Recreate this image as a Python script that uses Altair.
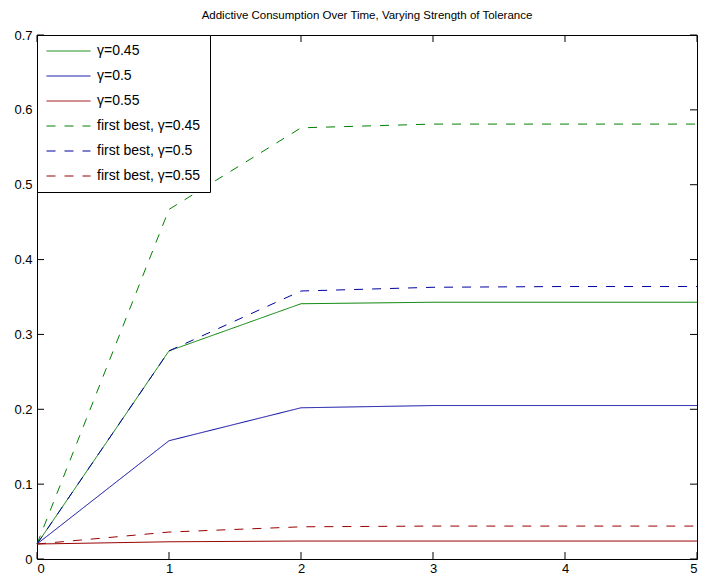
import altair as alt
import pandas as pd

# ---- data ----
t = [0, 1, 2, 3, 4, 5]
labels = ["γ=0.45", "γ=0.5", "γ=0.55",
          "first best, γ=0.45", "first best, γ=0.5", "first best, γ=0.55"]
g045 = [0.020, 0.278, 0.341, 0.343, 0.343, 0.343]
g050 = [0.020, 0.158, 0.202, 0.205, 0.205, 0.205]
g055 = [0.020, 0.023, 0.024, 0.024, 0.024, 0.024]
fb045 = [0.020, 0.467, 0.576, 0.581, 0.581, 0.581]
fb050 = [0.020, 0.278, 0.358, 0.363, 0.364, 0.364]
fb055 = [0.020, 0.036, 0.043, 0.044, 0.044, 0.044]
xticks = [0, 1, 2, 3, 4, 5]
yticks = [0, 0.1, 0.2, 0.3, 0.4, 0.5, 0.6, 0.7]

colors = ["#008000", "#0000a0", "#990000", "#008000", "#0000a0", "#990000"]
dashes = [[1, 0], [1, 0], [1, 0], [9, 9], [9, 9], [9, 9]]

series = [g045, g050, g055, fb045, fb050, fb055]
rows = []
for lab, vals in zip(labels, series):
    for ti, v in zip(t, vals):
        rows.append({"series": lab, "t": ti, "v": v})
df = pd.DataFrame(rows)

W, H = 660, 524
XMAX, YMAX = 5.0, 0.7
TL = 7  # inward tick length in px
tx = XMAX * TL / W
ty = YMAX * TL / H

xscale = alt.Scale(domain=[0, XMAX], nice=False, zero=False)
yscale = alt.Scale(domain=[0, YMAX], nice=False, zero=False)

lines = alt.Chart(df).mark_line(strokeWidth=1).encode(
    x=alt.X("t:Q", scale=xscale,
            axis=alt.Axis(title=None, values=xticks, format="d", labelPadding=3)),
    y=alt.Y("v:Q", scale=yscale,
            axis=alt.Axis(title=None, values=yticks, labelPadding=5,
                          labelExpr="datum.value == 0 ? '0' : format(datum.value, '.1f')")),
    color=alt.Color("series:N", scale=alt.Scale(domain=labels, range=colors),
                    legend=alt.Legend(title=None, orient="none", legendX=0, legendY=0,
                                      symbolType="stroke", symbolSize=1936,
                                      symbolStrokeWidth=1, clipHeight=14,
                                      rowPadding=11, padding=9, labelOffset=6,
                                      labelFont="Liberation Sans", labelFontSize=14,
                                      labelColor="black", strokeColor="black",
                                      fillColor="white", cornerRadius=0,
                                      labelLimit=300)),
    strokeDash=alt.StrokeDash("series:N", scale=alt.Scale(domain=labels, range=dashes)),
    order=alt.Order("series:N"),
)

tdf = pd.DataFrame({"t": xticks})
vdf = pd.DataFrame({"v": yticks})

bottom_ticks = alt.Chart(tdf).mark_rule(color="black", strokeWidth=1).encode(
    x=alt.X("t:Q", scale=xscale, title=None), y=alt.datum(0), y2=alt.datum(ty))
top_ticks = alt.Chart(tdf).mark_rule(color="black", strokeWidth=1).encode(
    x=alt.X("t:Q", scale=xscale, title=None), y=alt.datum(YMAX), y2=alt.datum(YMAX - ty))
left_ticks = alt.Chart(vdf).mark_rule(color="black", strokeWidth=1).encode(
    y=alt.Y("v:Q", scale=yscale, title=None), x=alt.datum(0), x2=alt.datum(tx))
right_ticks = alt.Chart(vdf).mark_rule(color="black", strokeWidth=1).encode(
    y=alt.Y("v:Q", scale=yscale, title=None), x=alt.datum(XMAX), x2=alt.datum(XMAX - tx))

chart = alt.layer(lines, bottom_ticks, top_ticks, left_ticks, right_ticks).properties(
    width=W, height=H,
    background="white",
    title=alt.Title("Addictive Consumption Over Time, Varying Strength of Tolerance",
                    font="Liberation Sans", fontSize=11.5, fontWeight="normal",
                    color="black", offset=8),
    autosize=alt.AutoSizeParams(type="none"),
    padding={"left": 29, "top": 27, "right": 2, "bottom": 18},
).configure_view(stroke="black", strokeWidth=1).configure_axis(
    domain=False, ticks=False, tickSize=0, grid=False,
    labelFont="Liberation Sans", labelFontSize=13, labelColor="black",
)

chart.save("out.html", embed_options={"renderer": "svg", "actions": False})
